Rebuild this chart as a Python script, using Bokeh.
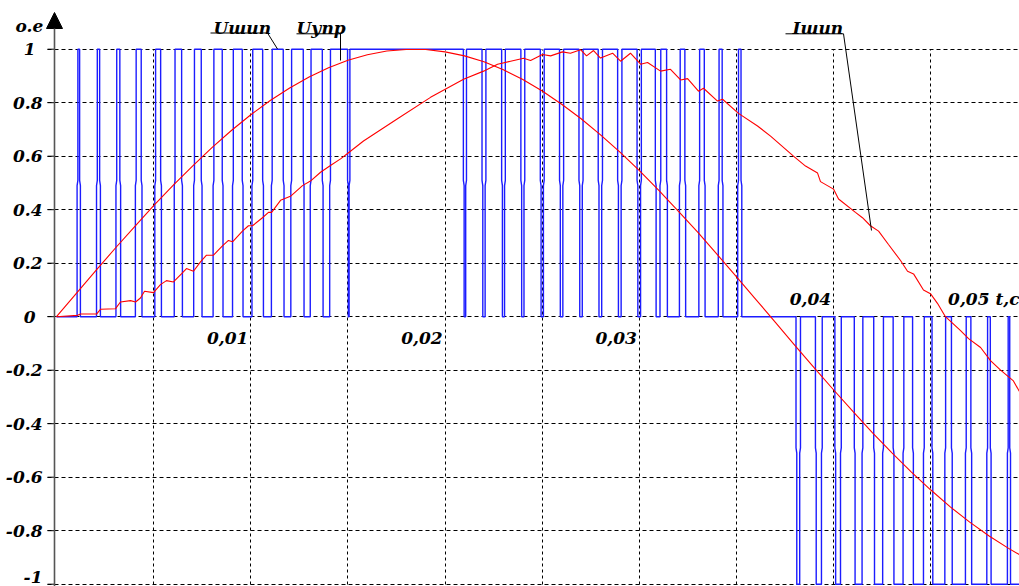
from bokeh.plotting import figure
from bokeh.models import Range1d, FixedTicker, Grid, Arrow, NormalHead
from bokeh.core.properties import value
from bokeh.embed import file_html
from bokeh.resources import INLINE

# ---------------- data ----------------
# control voltage U_упр (time in ms, per-unit value)
u_upr_t_ms = [0, 1, 2, 3, 4, 5, 6, 7, 8, 9, 10, 11, 12, 13, 14, 15, 16, 17, 18, 19,
              20, 21, 22, 23, 24, 25, 26, 27, 28, 29, 30, 31, 32, 33, 34, 35, 36, 37, 38, 39,
              40, 41, 42, 43, 44, 45, 46, 47, 48, 49, 49.6]
u_upr_val = [0, 0.085, 0.170, 0.254, 0.335, 0.415, 0.491, 0.563, 0.632, 0.696,
             0.755, 0.808, 0.855, 0.896, 0.931, 0.959, 0.979, 0.993, 0.999, 0.999,
             0.990, 0.975, 0.953, 0.923, 0.887, 0.844, 0.794, 0.740, 0.680, 0.615,
             0.546, 0.472, 0.395, 0.316, 0.233, 0.149, 0.064, -0.021, -0.107, -0.191,
             -0.274, -0.355, -0.434, -0.509, -0.581, -0.648, -0.711, -0.768, -0.820, -0.866,
             -0.891]

# current I_шип
i_shim_t_ms = [0, 1.08, 1.24, 2.06, 2.27, 3.04, 3.29, 3.81, 4.07, 4.32,
               4.53, 4.99, 5.35, 5.66, 6.02, 6.43, 6.69, 7.05, 7.41, 7.72,
               8.08, 8.54, 8.85, 9.06, 9.57, 9.88, 10.09, 10.60, 10.91, 11.07,
               11.53, 12.04, 12.66, 13.07, 13.59, 14.10, 14.62, 14.98, 15.80, 17.55,
               19.25, 20.95, 21.98, 22.70, 23.37, 24.04, 24.40, 25.01, 25.43, 26.04,
               26.45, 26.97, 27.28, 27.64, 28.00, 28.62, 29.03, 29.54, 30.06, 30.42,
               31.09, 31.60, 32.12, 32.48, 33.04, 33.30, 34.02, 34.28, 35.10, 36.08,
               36.75, 37.93, 38.55, 39.17, 39.32, 39.99, 40.25, 41.12, 41.48, 41.89,
               42.31, 42.82, 43.44, 43.80, 44.11, 44.62, 44.98, 45.34, 45.75, 46.53,
               46.94, 47.56, 48.07, 48.59, 49.25, 49.56]
i_shim_val = [0.0, 0.005, 0.01, 0.01, 0.028, 0.03, 0.055, 0.06, 0.055, 0.07,
              0.095, 0.09, 0.12, 0.135, 0.13, 0.16, 0.18, 0.17, 0.205, 0.23,
              0.23, 0.265, 0.285, 0.28, 0.32, 0.34, 0.34, 0.37, 0.39, 0.39,
              0.435, 0.45, 0.49, 0.507, 0.54, 0.565, 0.59, 0.61, 0.657, 0.74,
              0.82, 0.888, 0.918, 0.944, 0.955, 0.966, 0.958, 0.98, 0.975, 0.99,
              0.985, 0.998, 0.975, 0.995, 0.967, 0.985, 0.955, 0.985, 0.944, 0.95,
              0.918, 0.925, 0.885, 0.89, 0.843, 0.854, 0.806, 0.813, 0.76, 0.713,
              0.675, 0.6, 0.563, 0.537, 0.505, 0.477, 0.44, 0.39, 0.37, 0.34,
              0.32, 0.27, 0.21, 0.17, 0.16, 0.1, 0.086, 0.05, 0.0, -0.052,
              -0.082, -0.115, -0.164, -0.2, -0.24, -0.28]

# PWM voltage U_шип: pulse start times and widths (ms)
pwm_pos_on_ms = [1.1, 2.1, 3.1, 4.1, 5.1, 6.1, 7.1, 8.1, 9.1, 10.1,
                 11.1, 12.1, 13.1, 14.1, 15.1, 16.1, 17.1, 18.1, 19.1, 20.1,
                 21.1, 22.1, 23.1, 24.1, 25.1, 26.1, 27.1, 28.1, 29.1, 30.1,
                 31.1, 32.1, 33.1, 34.1, 35.1]
pwm_pos_width_ms = [0.09, 0.12, 0.16, 0.26, 0.26, 0.34, 0.35, 0.43, 0.46, 0.51,
                    0.57, 0.60, 0.58, 0.88, 1.0, 1.0, 1.0, 1.0, 1.0, 0.84,
                    0.80, 0.81, 0.80, 0.80, 0.79, 0.79, 0.78, 0.78, 0.78, 0.72,
                    0.30, 0.24, 0.24, 0.16, 0.13]
pwm_neg_on_ms = [38.1, 39.1, 40.1, 41.1, 42.1, 43.1, 44.1, 45.1, 46.1, 47.1, 48.1, 49.1]
pwm_neg_width_ms = [0.15, 0.27, 0.25, 0.36, 0.42, 0.47, 0.52, 0.62, 0.68, 0.78, 0.84, 0.86]

# axes
y_ticks = [-1, -0.8, -0.6, -0.4, -0.2, 0, 0.2, 0.4, 0.6, 0.8, 1]
y_tick_labels = ["-1", "-0.8", "-0.6", "-0.4", "-0.2", "0", "0.2", "0.4", "0.6", "0.8", "1"]
x_grid_ticks = [0.005, 0.01, 0.015, 0.02, 0.025, 0.03, 0.035, 0.04, 0.045]
x_label_vals = [0.01, 0.02, 0.03, 0.04, 0.05]
x_label_text = ["0,01", "0,02", "0,03", "0,04", "0,05 t,с"]

series_names = ["Uшип", "Uупр", "Iшип"]
unit_label = "o.e"

# ---------------- geometry: pixel -> data ----------------
PX0, PX_PER_S = 56.0, 19430.0
PY0, PY_PER_UNIT = 316.2, 267.5
W, H = 1019, 586


def X(px):
    return (px - PX0) / PX_PER_S


def Y(py):
    return (PY0 - py) / PY_PER_UNIT


X_START, X_END = X(0), X(W)
Y_START, Y_END = Y(H), Y(0)
AXIS_X = X(54)

FONT = "DejaVu Serif"
TXT = dict(text_font=value(FONT), text_font_style="bold italic",
           text_font_size="17px", text_color="black")

p = figure(width=W, height=H,
           x_range=Range1d(X_START, X_END), y_range=Range1d(Y_START, Y_END),
           x_axis_type=None, y_axis_type=None,
           toolbar_location=None, output_backend="svg",
           min_border_left=0, min_border_right=0, min_border_top=0, min_border_bottom=0)
p.outline_line_color = None
p.background_fill_color = "white"
p.border_fill_color = "white"

# grids
p.add_layout(Grid(dimension=1, ticker=FixedTicker(ticks=y_ticks),
                  cross_bounds=(X(47), X_END),
                  grid_line_color="black", grid_line_dash="4 3", grid_line_width=1))
p.add_layout(Grid(dimension=0, ticker=FixedTicker(ticks=x_grid_ticks),
                  cross_bounds=(-1, 1),
                  grid_line_color="black", grid_line_dash="3 3", grid_line_width=1))

# y axis: ticks, tick labels, line with arrow
p.segment(x0=[X(47)] * len(y_ticks), y0=y_ticks, x1=[AXIS_X] * len(y_ticks), y1=y_ticks,
          line_color="black", line_width=1)
y_lab_dx = [-7 if len(s) == 1 else 0 for s in y_tick_labels]
y_lab_dy = [-7 if v == min(y_ticks) else 0 for v in y_ticks]  # keep the lowest label inside
p.text(x=[X(42)] * len(y_ticks), y=y_ticks, text=y_tick_labels,
       x_offset=y_lab_dx, y_offset=y_lab_dy,
       text_align="right", text_baseline="middle", **TXT)
p.add_layout(Arrow(end=NormalHead(size=16, fill_color="black", line_color="black"),
                   x_start=AXIS_X, y_start=Y_START, x_end=AXIS_X, y_end=Y(12),
                   line_color="#555555", line_width=1.6))
p.text(x=[X(15)], y=[Y(25)], text=[unit_label], text_align="left",
       text_baseline="alphabetic", **TXT)

# ---------------- PWM waveform ----------------


def pwm_segments(on_ms, width_ms):
    segs = []
    for a, w in zip(on_ms, width_ms):
        b = a + w
        if segs and a <= segs[-1][1] + 1e-9:
            segs[-1][1] = max(segs[-1][1], b)
        else:
            segs.append([a, b])
    return segs


KINK = 0.04  # ms, small step of the edges at half level (as in the picture)
xs, ys = [0.0], [0.0]
for segs, lvl in ((pwm_segments(pwm_pos_on_ms, pwm_pos_width_ms), 1.0),
                  (pwm_segments(pwm_neg_on_ms, pwm_neg_width_ms), -1.0)):
    for a, b in segs:
        xs += [a - KINK, a - KINK, a, a, b, b, b + KINK, b + KINK]
        ys += [0, 0.49 * lvl, 0.51 * lvl, lvl, lvl, 0.51 * lvl, 0.49 * lvl, 0]
xs.append(max(xs[-1], X_END * 1000) + 0.5)
ys.append(0)

p.line([v * 1e-3 for v in xs], ys, line_color="#1c1cff", line_width=1.4)

# red curves
p.line([v * 1e-3 for v in u_upr_t_ms], u_upr_val, line_color="#ff0000", line_width=1.1)
p.line([v * 1e-3 for v in i_shim_t_ms], i_shim_val, line_color="#ff0000", line_width=1.1)

# x tick labels (placed beside the grid lines, as in the picture)
lx, ly = [], []
for v in x_label_vals:
    if v < X_END:
        lx.append(v - 2.5 / PX_PER_S)
    else:
        lx.append(X_END)
    ly.append(Y(337) if v < 0.035 else Y(298))
p.text(x=lx, y=ly, text=x_label_text, text_align="right", text_baseline="middle", **TXT)

# series name labels with leader lines
p.text(x=[X(213), X(296), X(792)], y=[Y(27.5)] * 3, text=series_names,
       text_align="left", text_baseline="alphabetic", **TXT)
p.multi_line(xs=[[X(210), X(267), X(277)], [X(296), X(340), X(340)], [X(785), X(843), X(871)]],
             ys=[[Y(32.5), Y(32.5), Y(48.5)], [Y(33.3), Y(33.3), Y(60)], [Y(33.3), Y(33.3), Y(230)]],
             line_color="black", line_width=1)

open("out.html", "w").write(file_html(p, INLINE))
